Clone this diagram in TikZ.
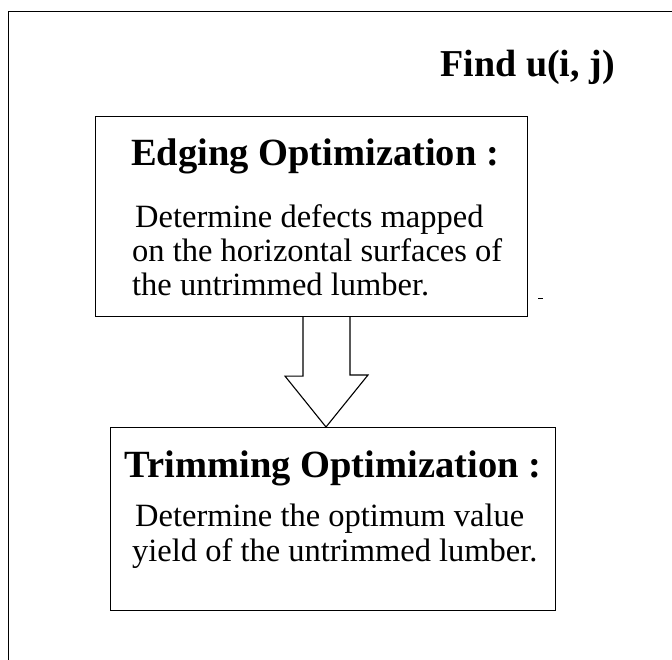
\documentclass[tikz,border=0pt]{standalone}
\usepackage{fontspec}
\setmainfont{Liberation Serif}
\usetikzlibrary{calc}

\tikzset{
	stagebox/.style={draw, line width=1.1pt, anchor=north west, inner sep=0pt},
	headtext/.style={anchor=base, font=\bfseries\fontsize{38.5}{38.5}\selectfont, inner sep=0pt},
	bodytext/.style={anchor=base west, font=\fontsize{32.5}{32.5}\selectfont, inner sep=0pt},
	hollowarrow/.style={draw, line width=1.1pt, fill=white, line join=miter}
}

\begin{document}
\begin{tikzpicture}[x=1pt, y=-1pt]
		\useasboundingbox (0,0) rectangle (672,660);
		\draw[line width=1pt] (8,660) -- (8,12) -- (672,12); % frame
		
		\node[anchor=base east, font=\bfseries\fontsize{38}{38}\selectfont, inner sep=0pt] (title) at (615,77) {Find u(i, j)};
		
		\node[stagebox, minimum width=432pt, minimum height=200pt] (edging) at (95,116) {};
		\node[headtext] (edginghead) at (315,166) {Edging Optimization :};
		\node[bodytext] (edgingone) at (135,228) {Determine defects mapped};
		\node[bodytext] (edgingtwo) at (132,262) {on the horizontal surfaces of};
		\node[bodytext] (edgingthree) at (132,296) {the untrimmed lumber.};
		
		\node[stagebox, minimum width=445pt, minimum height=183pt] (trimming) at (110,427) {};
		\node[headtext] (trimminghead) at (333,477) {Trimming Optimization :};
		\node[bodytext] (trimmingone) at (135,526) {Determine the optimum value};
		\node[bodytext] (trimmingtwo) at (132,561) {yield of the untrimmed lumber.};
		
		% hollow arrow between the two stages
		\coordinate (tail) at (326,0);
		\draw[hollowarrow] (tail |- edging.south) ++(-23,0) -- ++(0,59) -- ++(-18,0)
			-- (tail |- trimming.north) -- ++(42,-52) -- ++(-18,0) -- ($(tail |- edging.south)+(24,0)$);
		
		\draw[line width=0.8pt] (538,298) -- (543,298);
	\end{tikzpicture}
\end{document}
